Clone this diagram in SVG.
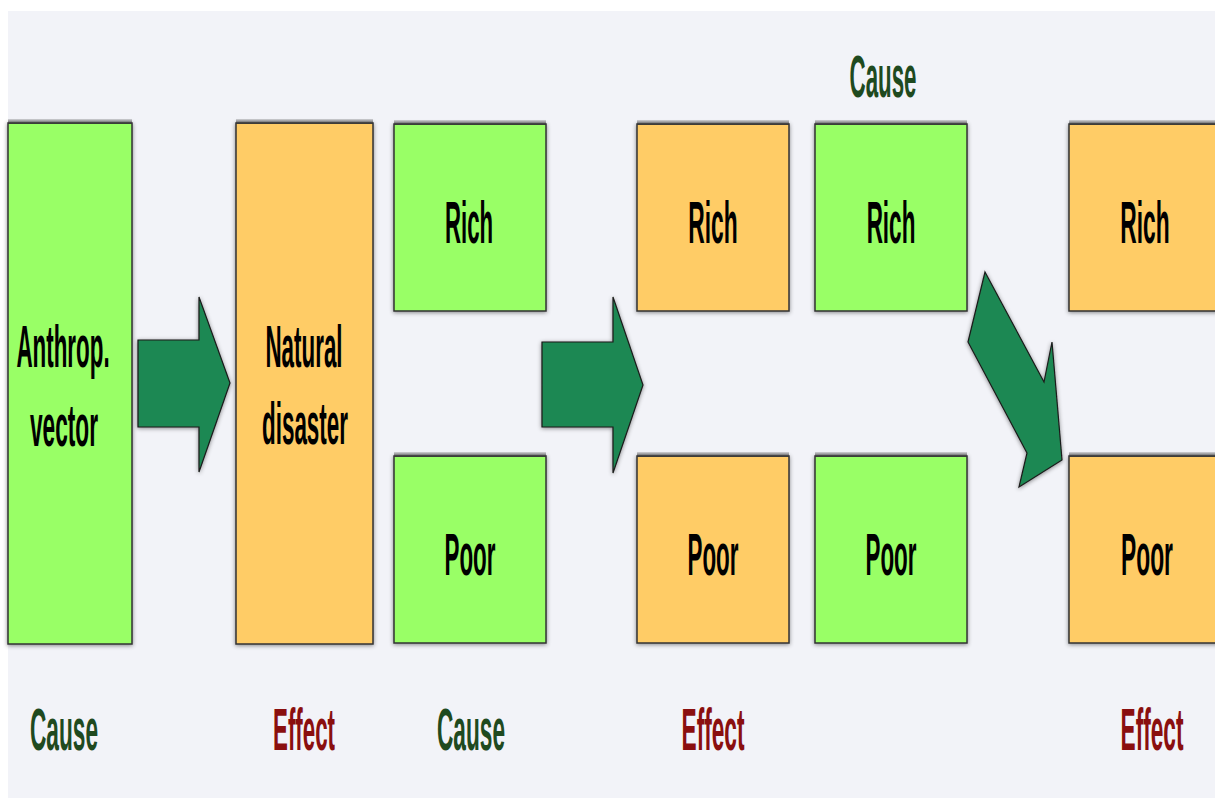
<svg xmlns="http://www.w3.org/2000/svg" width="1215" height="798" viewBox="0 0 1215 798">
<style>
.g{fill:#99ff66;stroke:#333;stroke-width:1.5}
.o{fill:#ffcc66;stroke:#333;stroke-width:1.5}
.tb{fill:url(#topband)}
.t{font-family:"Liberation Sans",Arial,sans-serif;font-size:60px;font-weight:bold;fill:#000;text-anchor:middle}
.c{fill:#1f4a1f}
.e{fill:#8a0f0f}
.arr{fill:#1d8852;stroke:#1a1a1a;stroke-width:1.2}
</style>
<defs>
<filter id="sh" x="-10%" y="-10%" width="120%" height="120%">
<feDropShadow dx="0" dy="1" stdDeviation="2" flood-color="#000" flood-opacity="0.45"/>
</filter>
<linearGradient id="topband" x1="0" y1="0" x2="0" y2="1">
<stop offset="0" stop-color="#555" stop-opacity="0.2"/>
<stop offset="1" stop-color="#333" stop-opacity="0.9"/>
</linearGradient>
</defs>
<rect x="0" y="0" width="1215" height="798" fill="#ffffff"/>
<rect x="8" y="11" width="1207" height="787" fill="#f2f3f8"/>

<g id="connectors">
<polygon class="arr" filter="url(#sh)" points="138,340 199,340 199,297 230,383 199,472 199,427 138,427"/>
<polygon class="arr" filter="url(#sh)" points="542,342 613,342 613,297 643,385 613,473 613,427 542,427"/>
<polygon class="arr" filter="url(#sh)" points="985,272 1044,382 1052,342 1062,460 1019,487 1027,453 968,342"/>
</g>

<g id="anthrop">
<rect class="g" filter="url(#sh)" x="8" y="123" width="124" height="521"/>
<rect class="tb" x="8" y="119" width="124" height="5"/>
<text class="t" transform="translate(63,367) scale(0.373,1)">Anthrop.</text>
<text class="t" transform="translate(64,446) scale(0.378,1)">vector</text>
</g>
<g id="natural">
<rect class="o" filter="url(#sh)" x="236" y="123" width="137" height="521"/>
<rect class="tb" x="236" y="119" width="137" height="5"/>
<text class="t" transform="translate(304,367) scale(0.373,1)">Natural</text>
<text class="t" transform="translate(305,444) scale(0.374,1)">disaster</text>
</g>

<g id="rich1"><rect class="g" filter="url(#sh)" x="394" y="124" width="152" height="187"/>
<rect class="tb" x="394" y="120" width="152" height="5"/>
<text class="t" transform="translate(469,243) scale(0.37,1)">Rich</text></g>
<g id="poor1"><rect class="g" filter="url(#sh)" x="394" y="456" width="152" height="187"/>
<rect class="tb" x="394" y="452" width="152" height="5"/>
<text class="t" transform="translate(470,575) scale(0.373,1)">Poor</text></g>

<g id="rich2"><rect class="o" filter="url(#sh)" x="637" y="124" width="152" height="187"/>
<rect class="tb" x="637" y="120" width="152" height="5"/>
<text class="t" transform="translate(713,243) scale(0.38,1)">Rich</text></g>
<g id="poor2"><rect class="o" filter="url(#sh)" x="637" y="456" width="152" height="187"/>
<rect class="tb" x="637" y="452" width="152" height="5"/>
<text class="t" transform="translate(713,575) scale(0.373,1)">Poor</text></g>

<g id="rich3"><rect class="g" filter="url(#sh)" x="815" y="124" width="152" height="187"/>
<rect class="tb" x="815" y="120" width="152" height="5"/>
<text class="t" transform="translate(891,243) scale(0.375,1)">Rich</text></g>
<g id="poor3"><rect class="g" filter="url(#sh)" x="815" y="456" width="152" height="187"/>
<rect class="tb" x="815" y="452" width="152" height="5"/>
<text class="t" transform="translate(891,575) scale(0.373,1)">Poor</text></g>

<g id="rich4"><rect class="o" filter="url(#sh)" x="1069" y="124" width="160" height="187"/>
<rect class="tb" x="1069" y="120" width="146" height="5"/>
<text class="t" transform="translate(1145,243) scale(0.38,1)">Rich</text></g>
<g id="poor4"><rect class="o" filter="url(#sh)" x="1069" y="456" width="160" height="187"/>
<rect class="tb" x="1069" y="452" width="146" height="5"/>
<text class="t" transform="translate(1147,575) scale(0.38,1)">Poor</text></g>

<g id="labels">
<text class="t c" transform="translate(883,97) scale(0.372,1)">Cause</text>
<text class="t c" transform="translate(64,750) scale(0.378,1)">Cause</text>
<text class="t e" transform="translate(304,750) scale(0.372,1)">Effect</text>
<text class="t c" transform="translate(471,750) scale(0.378,1)">Cause</text>
<text class="t e" transform="translate(713,750) scale(0.378,1)">Effect</text>
<text class="t e" transform="translate(1152,750) scale(0.378,1)">Effect</text>
</g>
</svg>
